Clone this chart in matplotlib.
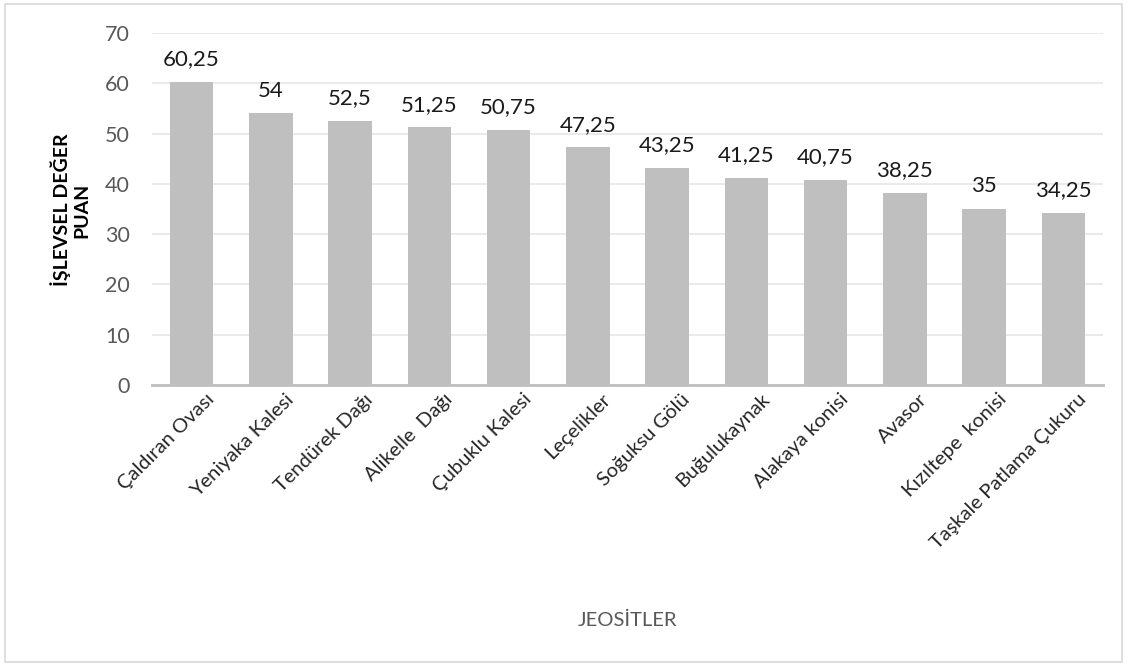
import matplotlib
matplotlib.use("Agg")
import matplotlib.pyplot as plt
from matplotlib.patches import Rectangle
from matplotlib.transforms import ScaledTranslation

categories = ["Çaldıran Ovası", "Yeniyaka Kalesi", "Tendürek Dağı", "Alikelle  Dağı",
              "Çubuklu Kalesi", "Leçelikler", "Soğuksu Gölü", "Buğulukaynak",
              "Alakaya konisi", "Avasor", "Kızıltepe  konisi", "Taşkale Patlama Çukuru"]
values = [60.25, 54, 52.5, 51.25, 50.75, 47.25, 43.25, 41.25, 40.75, 38.25, 35, 34.25]
yticks = [0, 10, 20, 30, 40, 50, 60, 70]

plt.rcParams['font.family'] = ['Lato', 'DejaVu Sans']

fig = plt.figure(figsize=(11.27, 6.66), dpi=100)
fig.patches.append(Rectangle((0.004, 0.006), 0.992, 0.988, transform=fig.transFigure,
                             fill=False, edgecolor='#d9d9d9', linewidth=1.2))

ax = fig.add_axes([152 / 1127, 1 - 385 / 666, (1103 - 152) / 1127, (385 - 33) / 666])
x = list(range(len(categories)))
ax.bar(x, values, width=0.55, color='#bfbfbf', zorder=2)
ax.set_xlim(-0.5, len(categories) - 0.5)
ax.set_ylim(0, 70)
ax.set_yticks(yticks)
ax.set_yticklabels([str(t) for t in yticks])
ax.grid(axis='y', color='#e6e6e6', linewidth=1.2, zorder=0)
ax.set_axisbelow(True)
for s in ['top', 'right', 'left']:
    ax.spines[s].set_visible(False)
ax.spines['bottom'].set_color('#bfbfbf')
ax.spines['bottom'].set_linewidth(2)
ax.tick_params(axis='y', length=0, pad=16, labelsize=15.5, labelcolor='#595959')
ax.tick_params(axis='x', length=0, pad=4)
ax.set_xticks(x)
ax.set_xticklabels(categories, rotation=45, ha='right', rotation_mode='anchor',
                   fontsize=14.5, color='#262626')
shift = ScaledTranslation(14 / 100, 0, fig.dpi_scale_trans)
for lbl in ax.get_xticklabels():
    lbl.set_transform(lbl.get_transform() + shift)

for xi, v in zip(x, values):
    label = f"{v:g}".replace('.', ',')
    ax.annotate(label, (xi, v), xytext=(0, 9), textcoords='offset points',
                ha='center', va='bottom', fontsize=16, color='#1a1a1a')

fig.text(70 / 1127, 1 - 210 / 666, "İŞLEVSEL DEĞER\nPUAN", rotation=90, ha='center',
         va='center', fontsize=14, fontweight='bold', color='#000000', linespacing=1.2)
fig.text(627 / 1127, 1 - 620 / 666, "JEOSİTLER", ha='center', va='center',
         fontsize=14.5, color='#595959')

fig.savefig("out.png", dpi=100)
